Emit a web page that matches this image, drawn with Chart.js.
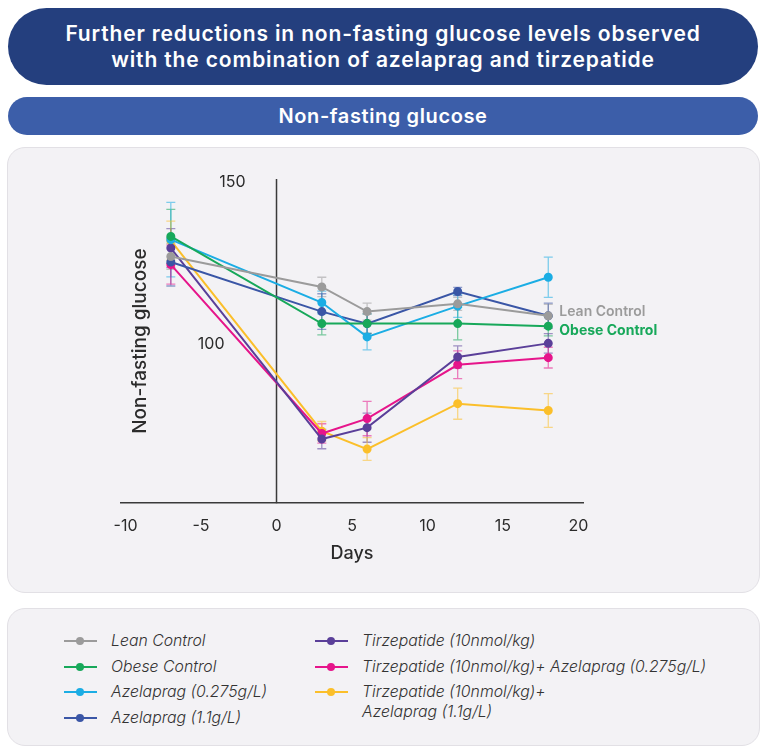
<!DOCTYPE html>
<html>
<head>
<meta charset="utf-8">
<script src="https://cdn.jsdelivr.net/npm/chart.js@4.4.1/dist/chart.umd.min.js"></script>
<style>
  html, body { margin: 0; padding: 0; background: #ffffff; }
  body { width: 766px; height: 753px; position: relative; font-family: Inter, "Open Sans", sans-serif; color: #2b2b2b; }
  .pill { position: absolute; left: 8px; width: 750px; color: #fff; text-align: center; font-weight: 600; }
  .headline { top: 8px; height: 77px; border-radius: 40px; background: #243f7e; font-size: 21px; letter-spacing: 0.85px; line-height: 26px;
              display: flex; align-items: center; justify-content: center; }
  .subhead { top: 97px; height: 38px; border-radius: 19px; background: #3c5ea9; font-size: 20px; letter-spacing: 0.6px; line-height: 38px; }
  .panel { position: absolute; left: 7px; width: 753px; background: #f3f2f5; border: 1px solid #e2e0e5; border-radius: 18px; box-sizing: border-box; }
  #chartPanel { top: 147px; height: 446px; }
  #legendPanel { top: 608px; height: 138px; }
  #chartPanel canvas { position: absolute; left: 0; top: 0; }
  #legend { position: absolute; left: 0; top: 0; width: 100%; height: 100%; }
  .item { position: absolute; display: flex; align-items: flex-start; font-style: italic; font-weight: 300; font-size: 15.8px; line-height: 20px; color: #333; white-space: pre; }
  .sw { position: relative; width: 33px; height: 20px; margin-right: 14px; flex: none; }
  .sw i { position: absolute; left: 0; top: 9px; width: 33px; height: 2px; }
  .sw b { position: absolute; left: 12px; top: 6px; width: 8px; height: 8px; border-radius: 50%; }
</style>
</head>
<body>
<div class="pill headline"><div>Further reductions in non-fasting glucose levels observed<br>with the combination of azelaprag and tirzepatide</div></div>
<div class="pill subhead">Non-fasting glucose</div>
<div class="panel" id="chartPanel"><canvas id="chartGlucose" width="753" height="446"></canvas></div>
<div class="panel" id="legendPanel"><div id="legend"></div></div>

<script>
// study days for every group
const days = [-7, 3, 6, 12, 18];

const labels = [
  "Lean Control", "Obese Control", "Azelaprag (0.275g/L)", "Azelaprag (1.1g/L)",
  "Tirzepatide (10nmol/kg)", "Tirzepatide (10nmol/kg)+ Azelaprag (0.275g/L)",
  "Tirzepatide (10nmol/kg)+\nAzelaprag (1.1g/L)"
];
const colors = ["#9b9b9b", "#17a85a", "#1badE4", "#3a56a6", "#5a3f99", "#e6158b", "#fbbf2a"];

// mean non-fasting glucose per group
const leanControl   = [127.1, 117.7, 110.1, 112.5, 108.8];
const obeseControl  = [133.3, 106.4, 106.4, 106.4, 105.6];
const azela0275     = [132.3, 112.9, 102.3, 111.8, 120.7];
const azela11       = [125.4, 110.1, 106.4, 116.3, 108.8];
const tirz          = [129.7, 70.8, 74.3, 96.1, 100.3];
const tirzAzela0275 = [124.6, 72.5, 77.1, 93.7, 95.9];
const tirzAzela11   = [132.0, 73.2, 67.7, 81.7, 79.6];

// standard error per group
const leanErr      = [4.0, 3.0, 2.6, 2.0, 3.5];
const obeseErr     = [8.3, 3.5, 3.0, 5.0, 3.0];
const azela0275Err = [11.5, 3.5, 4.0, 3.5, 6.2];
const azela11Err   = [7.4, 5.5, 3.0, 1.3, 3.9];
const tirzErr      = [6.0, 3.0, 4.5, 3.4, 3.0];
const tirzA0275Err = [6.0, 3.0, 5.3, 4.3, 3.2];
const tirzA11Err   = [6.0, 3.0, 3.5, 4.8, 5.2];

const yTicks = [150, 100];
const xTicks = [-10, -5, 0, 5, 10, 15, 20];

const means = [leanControl, obeseControl, azela0275, azela11, tirz, tirzAzela0275, tirzAzela11];
const errs = [leanErr, obeseErr, azela0275Err, azela11Err, tirzErr, tirzA0275Err, tirzA11Err];

const datasets = means.map((m, i) => ({
  label: labels[i],
  data: m.map((v, j) => ({ x: days[j], y: v })),
  err: errs[i],
  borderColor: colors[i],
  backgroundColor: colors[i],
  borderWidth: 2,
  pointRadius: 3.5,
  pointHoverRadius: 4,
  tension: 0
}));

const FONT = "Inter, 'Open Sans', sans-serif";

// error bars, y axis at day 0, and the end labels
const decor = {
  id: "decor",
  beforeDatasetsDraw(chart) {
    const { ctx, chartArea } = chart;
    const xs = chart.scales.x, ys = chart.scales.y;
    ctx.save();
    ctx.globalAlpha = 0.55;
    ctx.lineWidth = 1.3;
    chart.data.datasets.forEach(ds => {
      ctx.strokeStyle = ds.borderColor;
      ds.data.forEach((p, j) => {
        const px = xs.getPixelForValue(p.x);
        const t = ys.getPixelForValue(p.y + ds.err[j]);
        const b = ys.getPixelForValue(p.y - ds.err[j]);
        ctx.beginPath();
        ctx.moveTo(px, t); ctx.lineTo(px, b);
        ctx.moveTo(px - 4.5, t); ctx.lineTo(px + 4.5, t);
        ctx.moveTo(px - 4.5, b); ctx.lineTo(px + 4.5, b);
        ctx.stroke();
      });
    });
    ctx.restore();

    // vertical axis through day 0
    const x0 = xs.getPixelForValue(0);
    ctx.save();
    ctx.strokeStyle = "#3a3a3a";
    ctx.lineWidth = 1.5;
    ctx.beginPath();
    ctx.moveTo(x0, chartArea.top);
    ctx.lineTo(x0, chartArea.bottom);
    ctx.stroke();

    ctx.fillStyle = "#2b2b2b";
    ctx.font = "16px " + FONT;
    ctx.textAlign = "right";
    ctx.textBaseline = "middle";
    ctx.fillText(String(yTicks[0]), x0 - 31, ys.getPixelForValue(yTicks[0]));
    ctx.fillText(String(yTicks[1]), x0 - 52, ys.getPixelForValue(yTicks[1]));

    ctx.font = "500 19px " + FONT;
    ctx.textAlign = "center";
    ctx.translate(132, (chartArea.top + chartArea.bottom) / 2);
    ctx.rotate(-Math.PI / 2);
    ctx.fillText("Non-fasting glucose", 0, 0);
    ctx.restore();
  },
  afterDatasetsDraw(chart) {
    const { ctx } = chart;
    ctx.save();
    ctx.textAlign = "left";
    ctx.textBaseline = "middle";
    [[0, -4, "600"], [1, 5, "700"]].forEach(([i, dy, w]) => {
      const meta = chart.getDatasetMeta(i);
      const pt = meta.data[meta.data.length - 1];
      ctx.font = w + " 14px " + FONT;
      ctx.fillStyle = colors[i];
      ctx.fillText(labels[i], pt.x + 11, pt.y + dy);
    });
    ctx.restore();
  }
};

// legend in two columns under the chart
const htmlLegend = {
  id: "htmlLegend",
  afterUpdate(chart) {
    const box = document.getElementById("legend");
    box.innerHTML = "";
    chart.data.datasets.forEach((ds, i) => {
      const col = i < 4 ? 0 : 1;
      const row = i < 4 ? i : i - 4;
      const el = document.createElement("div");
      el.className = "item";
      el.style.left = (col ? 307 : 56) + "px";
      el.style.top = (22 + row * 25.7) + "px";
      el.innerHTML = '<span class="sw"><i style="background:' + ds.borderColor + '"></i><b style="background:' +
        ds.borderColor + '"></b></span><span></span>';
      el.lastChild.textContent = ds.label;
      box.appendChild(el);
    });
  }
};

new Chart(document.getElementById("chartGlucose").getContext("2d"), {
  type: "line",
  data: { datasets },
  options: {
    responsive: false,
    animation: false,
    layout: { padding: { left: 113, right: 178, top: 31, bottom: 30 } },
    plugins: { legend: { display: false }, tooltip: { enabled: false } },
    scales: {
      x: {
        type: "linear",
        min: -10.3,
        max: 20.3,
        afterBuildTicks: s => { s.ticks = xTicks.map(v => ({ value: v })); },
        grid: { display: false, drawTicks: false },
        border: { display: true, color: "#3a3a3a", width: 1.5 },
        ticks: { color: "#2b2b2b", font: { family: FONT, size: 16 }, padding: 13 },
        title: { display: true, text: "Days", color: "#2b2b2b", font: { family: FONT, size: 18, weight: "500" }, padding: { top: -6, bottom: 0 } }
      },
      y: { display: false, min: 51, max: 151 }
    }
  },
  plugins: [decor, htmlLegend]
});
</script>
</body>
</html>
